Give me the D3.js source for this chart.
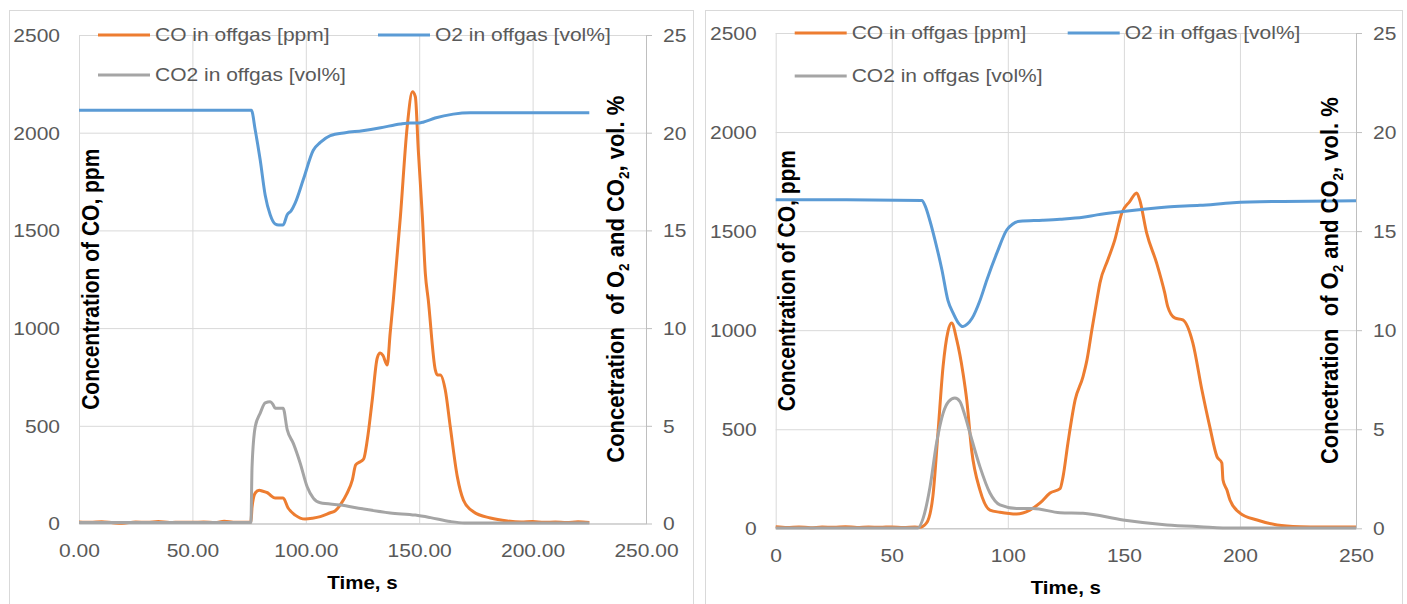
<!DOCTYPE html>
<html><head><meta charset="utf-8">
<script src="https://cdn.jsdelivr.net/npm/d3@7"></script>
<style>
html,body{margin:0;padding:0;background:#fff;overflow:hidden;}
svg text{font-family:"Liberation Sans",Arial,sans-serif;}
</style></head><body><svg id="c" width="1407" height="604"></svg>
<script>
const seriesNames = ["CO in offgas [ppm]", "O2 in offgas [vol%]", "CO2 in offgas [vol%]"];
const seriesColors = ["#ED7D31", "#5B9BD5", "#A5A5A5"];
const leftYTicks = [0, 500, 1000, 1500, 2000, 2500];
const rightYTicks = [0, 5, 10, 15, 20, 25];
const xTicks = [0, 50, 100, 150, 200, 250];
const leftTitle = "Concentration of CO, ppm";
const xTitle = "Time, s";

// Chart A (left) [time s, value]
const aCO = [[0,8],[5,6],[10,9],[15,4],[19,1],[25,8],[30,6],[35,10],[40,5],[45,7],[50,6],[55,8],[60,5],[64,11],[68,7],[72,6],[75.8,8],[76.3,84],[77.7,156],[79.5,170],[80.8,166],[83,158],[84.3,146],[86.5,130],[90,130],[92.2,79],[95.3,43],[99.7,23],[103,27],[106.4,35],[110.8,55],[113,65],[115.5,100],[118,150],[120.5,222],[122,300],[124,316],[125.5,330],[127.1,427],[129.3,632],[131.5,847],[132.8,872],[134,860],[135.9,811],[137.2,975],[138.6,1144],[141.7,1569],[144.7,2030],[147,2209],[148.3,2184],[149.6,1911],[151.4,1569],[152.7,1280],[154,1144],[157.1,786],[158,760],[159.3,760],[161.5,683],[163.7,495],[166.8,240],[169.5,120],[173.9,60],[181.4,28],[188.9,13],[195,8],[200,10],[205,6],[210,8],[215,5],[220,9],[225,5]];
const aO2 = [[0,21.15],[20,21.15],[40,21.15],[60,21.15],[76,21.15],[77.7,20.14],[79.9,18.6],[82.1,16.8],[84.3,15.8],[86.5,15.33],[88,15.28],[90,15.28],[91.8,15.8],[93.5,16.0],[95.3,16.4],[98.9,17.6],[103.3,19.1],[106.4,19.5],[110.8,19.85],[117.4,20.0],[125,20.1],[133,20.25],[141.7,20.45],[146,20.5],[150,20.5],[152,20.55],[157,20.75],[165,20.95],[172.5,21.02],[180,21.02],[200,21.02],[225,21.02]];
const aCO2 = [[0,0.05],[75.8,0.05],[76.3,2.9],[77.7,4.95],[79.9,5.65],[82.1,6.17],[84.3,6.23],[85.5,6.1],[86.5,5.9],[90,5.9],[91.8,4.8],[94.5,4.1],[97.5,3.1],[100.6,1.88],[103.3,1.3],[106.4,1.06],[115.2,0.95],[125,0.75],[137.2,0.54],[148.3,0.43],[155,0.3],[163.7,0.1],[170,0.03],[225,0.02]];

// Chart B (right)
const bCO = [[0,8],[5,4],[10,7],[15,3],[20,6],[25,5],[30,8],[35,4],[40,6],[45,5],[50,7],[55,4],[60,6],[62.1,5],[65,27],[67.7,160],[69.9,480],[72.1,816],[74.2,993],[75.8,1036],[78,951],[80.7,783],[82.3,648],[84.4,395],[88,193],[92.3,92],[96.6,81],[103.8,72],[109.5,92],[113.9,128],[118.2,178],[122.5,200],[123.8,261],[125.9,431],[129,648],[132.4,766],[134.1,850],[136.2,1001],[138.4,1153],[139.7,1239],[143.1,1355],[146.1,1456],[149.1,1592],[152.5,1649],[155.5,1693],[156.8,1658],[159.8,1491],[164.1,1339],[167.6,1188],[168.9,1119],[171.9,1062],[175.4,1052],[179.7,936],[183.6,699],[187,513],[190.1,362],[192.2,330],[192.7,244],[194.4,193],[195.7,143],[200,77],[207.4,42],[216,17],[225.9,8],[235,6],[250,7]];
const bO2 = [[0,16.58],[30,16.58],[63,16.55],[64.3,16.3],[66.5,15.5],[68.6,14.56],[71.6,13.05],[74.2,11.5],[76.4,10.87],[78.5,10.4],[80.7,10.18],[82.5,10.3],[84.6,10.6],[88,11.5],[91,12.55],[95.3,13.9],[99.6,15.07],[102,15.35],[105.2,15.5],[115,15.55],[122.5,15.6],[132.4,15.7],[138.4,15.82],[149.6,15.99],[168.6,16.22],[182.8,16.3],[197,16.43],[218.5,16.5],[250,16.53]];
const bCO2 = [[0,0.02],[61.3,0.02],[63.5,0.5],[66.5,2.1],[69.3,4.3],[72.1,5.8],[74.5,6.4],[77.2,6.58],[79.4,6.4],[81.5,5.7],[83.7,4.8],[88,3.1],[92.3,1.78],[96.6,1.18],[103.8,1.0],[110.8,1.0],[122.5,0.79],[132.4,0.76],[149.6,0.42],[168.6,0.17],[182.8,0.08],[197,0.01],[250,0.01]];

const svg = d3.select("#c");
svg.append("rect").attr("width",1407).attr("height",604).attr("fill","#fff");

const charts = [
  {frame:[9,10,684,620], x0:79, x1:646, yTop:35, yBot:523.5, fmt:d3.format(".2f"), co:aCO, o2:aO2, co2:aCO2, legO2:299, lRow:40, rTitleOff:-30, lTitleOff:12},
  {frame:[705,10,697,620], x0:775.7, x1:1356, yTop:33, yBot:528.3, fmt:d3.format("d"), co:bCO, o2:bO2, co2:bCO2, legO2:292, lRow:43, rTitleOff:-26, lTitleOff:11}
];

const SX = 1.2, FS = 17.5, TXT = "#595959";

function stretchAxisText(g) {
  g.selectAll("text").each(function(){
    const t = d3.select(this);
    const x = +(t.attr("x")||0), y = +(t.attr("y")||0);
    t.attr("x",0).attr("y",0).attr("transform",`translate(${x},${y}) scale(${SX},1)`);
  });
}

charts.forEach(c => {
  const g = svg.append("g");
  g.append("rect").attr("x",c.frame[0]+0.5).attr("y",c.frame[1]+0.5).attr("width",c.frame[2]).attr("height",c.frame[3])
    .attr("fill","none").attr("stroke","#d9d9d9").attr("stroke-width",1);
  const x = d3.scaleLinear().domain([0,250]).range([c.x0,c.x1]);
  const yL = d3.scaleLinear().domain([0,2500]).range([c.yBot,c.yTop]);
  const yR = d3.scaleLinear().domain([0,25]).range([c.yBot,c.yTop]);

  // horizontal gridlines
  const gh = g.append("g").attr("transform",`translate(${c.x0},0)`)
    .call(d3.axisLeft(yL).tickValues(leftYTicks).tickSize(-(c.x1-c.x0)).tickFormat(""));
  gh.select(".domain").remove();
  gh.selectAll("line").attr("stroke","#d9d9d9").attr("stroke-width",1);
  // vertical gridlines
  const gv = g.append("g").attr("transform",`translate(0,${c.yBot})`)
    .call(d3.axisBottom(x).tickValues(xTicks).tickSize(-(c.yBot-c.yTop)).tickFormat(""));
  gv.select(".domain").remove();
  gv.selectAll("line").attr("stroke","#d9d9d9").attr("stroke-width",1);

  // left axis labels
  const al = g.append("g").attr("transform",`translate(${c.x0},0)`)
    .call(d3.axisLeft(yL).tickValues(leftYTicks).tickSize(0).tickPadding(19).tickFormat(d3.format("d")));
  al.select(".domain").remove();
  al.selectAll("text").attr("fill",TXT).attr("font-size",FS).attr("dy","0.36em");
  al.attr("font-family",null).attr("font-size",null);
  stretchAxisText(al);

  // bottom axis
  const ab = g.append("g").attr("transform",`translate(0,${c.yBot})`)
    .call(d3.axisBottom(x).tickValues(xTicks).tickSize(0).tickSizeOuter(0).tickFormat(c.fmt));
  ab.select(".domain").attr("stroke","#bfbfbf").attr("stroke-width",1);
  ab.selectAll("text").attr("fill",TXT).attr("font-size",FS).attr("y",27).attr("dy","0.36em");
  ab.attr("font-family",null).attr("font-size",null);
  stretchAxisText(ab);

  // right axis
  const ar = g.append("g").attr("transform",`translate(${c.x1},0)`)
    .call(d3.axisRight(yR).tickValues(rightYTicks).tickSize(6).tickSizeOuter(0).tickPadding(11).tickFormat(d3.format("d")));
  ar.select(".domain").attr("stroke","#bfbfbf").attr("stroke-width",1);
  ar.selectAll("line").attr("stroke","#bfbfbf");
  ar.selectAll("text").attr("fill",TXT).attr("font-size",FS).attr("dy","0.36em");
  ar.attr("font-family",null).attr("font-size",null);
  stretchAxisText(ar);

  // lines
  const lnL = d3.line().x(d=>x(d[0])).y(d=>yL(d[1])).curve(d3.curveMonotoneX);
  const lnR = d3.line().x(d=>x(d[0])).y(d=>yR(d[1])).curve(d3.curveMonotoneX);
  g.append("path").datum(c.co).attr("d",lnL).attr("fill","none").attr("stroke",seriesColors[0]).attr("stroke-width",3).attr("stroke-linejoin","round");
  g.append("path").datum(c.o2).attr("d",lnR).attr("fill","none").attr("stroke",seriesColors[1]).attr("stroke-width",3).attr("stroke-linejoin","round");
  g.append("path").datum(c.co2).attr("d",lnR).attr("fill","none").attr("stroke",seriesColors[2]).attr("stroke-width",3).attr("stroke-linejoin","round");

  // legend
  const legItems = [
    {i:0, lx:c.x0+19, ly:c.yTop},
    {i:1, lx:c.x0+c.legO2, ly:c.yTop},
    {i:2, lx:c.x0+19, ly:c.yTop+c.lRow}
  ];
  legItems.forEach(it => {
    g.append("line").attr("x1",it.lx).attr("x2",it.lx+52).attr("y1",it.ly).attr("y2",it.ly)
      .attr("stroke",seriesColors[it.i]).attr("stroke-width",3);
    g.append("text").attr("transform",`translate(${it.lx+57},${it.ly}) scale(${SX},1)`)
      .attr("dy","0.36em").attr("font-size",FS).attr("fill",TXT).text(seriesNames[it.i]);
  });

  // axis titles
  const midY = (c.yTop+c.yBot)/2;
  g.append("text").attr("transform",`translate(${c.x0+c.lTitleOff},${midY}) rotate(-90) scale(1,1.1)`)
    .attr("text-anchor","middle").attr("dy","0.36em").attr("font-size",21).attr("font-weight","bold").attr("fill","#000")
    .text(leftTitle);
  const rt = g.append("text").attr("transform",`translate(${c.x1+c.rTitleOff},${midY}) rotate(-90) scale(1,1.05)`)
    .attr("text-anchor","middle").attr("dy","0.36em").attr("font-size",22).attr("font-weight","bold").attr("fill","#000")
    .style("white-space","pre");
  rt.append("tspan").text("Concetration  of O");
  rt.append("tspan").attr("font-size",13.5).attr("dy",4).text("2");
  rt.append("tspan").attr("dy",-4).text(" and CO");
  rt.append("tspan").attr("font-size",13.5).attr("dy",4).text("2");
  rt.append("tspan").attr("dy",-4).text(", vol. %");
  g.append("text").attr("transform",`translate(${(c.x0+c.x1)/2},${c.yBot+59}) scale(1.08,1)`)
    .attr("text-anchor","middle").attr("dy","0.36em").attr("font-size",19).attr("font-weight","bold").attr("fill","#000")
    .text(xTitle);
});
</script></body></html>
